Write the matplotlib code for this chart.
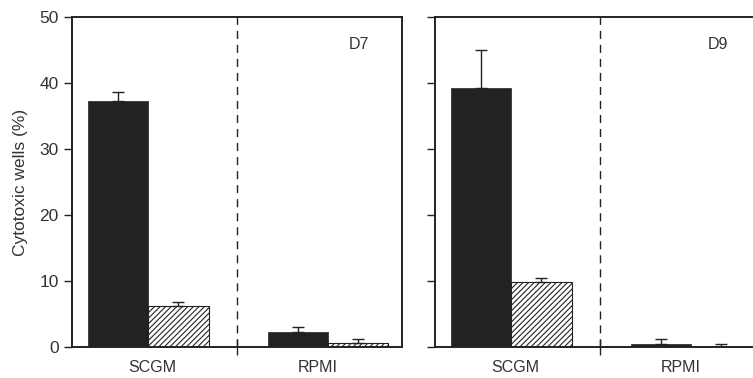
import matplotlib
matplotlib.use("Agg")
import matplotlib.pyplot as plt
import numpy as np

plt.rcParams["font.family"] = ["Liberation Sans", "DejaVu Sans"]
plt.rcParams["hatch.linewidth"] = 0.8

groups = ["SCGM", "RPMI"]
panels = ["D7", "D9"]
# mean values, black (solid) and hatched series, per panel
solid_vals = {"D7": [37.3, 2.3], "D9": [39.2, 0.5]}
solid_err = {"D7": [1.3, 0.8], "D9": [5.8, 0.8]}
hatch_vals = {"D7": [6.3, 0.7], "D9": [9.9, 0.1]}
hatch_err = {"D7": [0.6, 0.6], "D9": [0.6, 0.4]}

solid_x = [0.555, 2.74]
hatch_x = [1.29, 3.47]
width = 0.73
label_x = {"D7": 3.48, "D9": 3.43}

fig = plt.figure(figsize=(7.53, 3.78), dpi=100)
ax1 = fig.add_axes([72 / 753, 30.7 / 378, 330 / 753, 330.3 / 378])
ax2 = fig.add_axes([435 / 753, 30.7 / 378, 330 / 753, 330.3 / 378])

for ax, p in zip([ax1, ax2], panels):
    sv = solid_vals[p]
    hv = hatch_vals[p]
    ax.bar(solid_x, sv, width=width, color="#222222", edgecolor="#222222", linewidth=0.5, zorder=2)
    ax.bar(hatch_x, hv, width=width, color="white", edgecolor="#222222", hatch="//////", linewidth=0.8, zorder=2)
    ax.errorbar(solid_x, sv, yerr=[np.zeros(2), solid_err[p]], fmt="none", ecolor="#222222",
                elinewidth=1, capsize=4, capthick=1, zorder=3)
    ax.errorbar(hatch_x, hv, yerr=[np.zeros(2), hatch_err[p]], fmt="none", ecolor="#222222",
                elinewidth=1, capsize=4, capthick=1, zorder=3)
    ax.axvline(2, color="#222222", ls=(0, (5.8, 4.3)), lw=1, zorder=1)
    ax.set_xlim(0, 4)
    ax.set_ylim(0, 50)
    ax.set_yticks([0, 10, 20, 30, 40, 50])
    ax.set_xticks([2])
    ax.set_xticklabels([""])
    ax.tick_params(axis="x", direction="inout", length=12, width=1, color="#222222")
    ax.tick_params(axis="y", direction="out", length=6, width=1, color="#222222", labelsize=12.5,
                   labelcolor="#333333")
    for s in ax.spines.values():
        s.set_linewidth(1.4)
        s.set_color("#222222")
    ax.text(0.97, -1.9, groups[0], ha="center", va="top", fontsize=11.5, color="#333333")
    ax.text(2.98, -1.9, groups[1], ha="center", va="top", fontsize=11.5, color="#333333")
    ax.text(label_x[p], 45.8, p, ha="center", va="center", fontsize=11.5, color="#333333")

ax2.set_yticklabels([])
ax1.set_ylabel("Cytotoxic wells (%)", fontsize=12.5, color="#333333", labelpad=8)

fig.savefig("out.png", dpi=100)
